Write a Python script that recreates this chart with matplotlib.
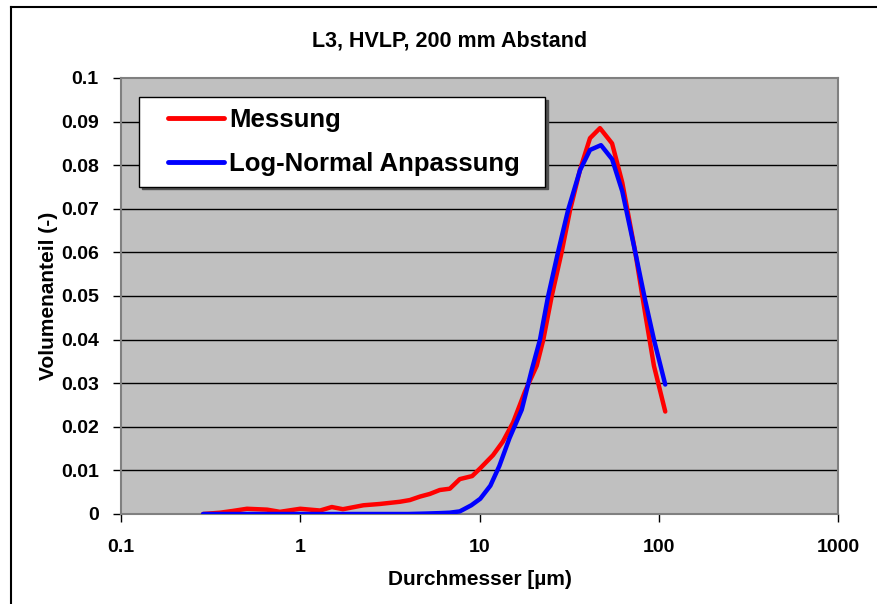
import matplotlib
matplotlib.use("Agg")
import matplotlib.pyplot as plt
from matplotlib.lines import Line2D
from matplotlib.legend_handler import HandlerLine2D
from matplotlib.ticker import FixedLocator, FuncFormatter, NullLocator

plt.rcParams['font.family'] = ['Liberation Sans', 'DejaVu Sans']

title = "L3, HVLP, 200 mm Abstand"
xlabel = "Durchmesser [µm)"
ylabel = "Volumenanteil (-)"
series_names = ["Messung", "Log-Normal Anpassung"]

meas_x = [0.287, 0.357, 0.42, 0.504, 0.653, 0.77, 1.0, 1.29, 1.5, 1.73, 2.25, 2.78,
          3.59, 4.09, 4.66, 5.28, 6.0, 6.83, 7.76, 9.1, 10.1, 11.9, 13.5, 15.4,
          17.9, 20.85, 22.7, 25.3, 28.7, 32.0, 36.4, 41.35, 47.0, 54.9, 62.6, 74.0,
          84.0, 94.0, 108.7]
meas_y = [0.0, 0.0003, 0.0007, 0.0012, 0.001, 0.0005, 0.0012, 0.0008, 0.0016, 0.0011,
          0.002, 0.0023, 0.0028, 0.0032, 0.004, 0.0046, 0.0055, 0.0058, 0.008, 0.0087,
          0.0105, 0.0135, 0.0166, 0.021, 0.028, 0.034, 0.040, 0.050, 0.060, 0.0697,
          0.079, 0.0862, 0.0885, 0.085, 0.076, 0.06, 0.046, 0.034, 0.0235]

fit_x = [0.287, 0.5, 1.0, 2.0, 3.0, 4.0, 5.0, 6.0, 6.83, 7.76, 8.1, 9.0, 10.1, 11.5,
         12.9, 14.7, 17.2, 19.55, 21.75, 24.1, 27.4, 31.2, 36.4, 41.35, 47.6, 54.9,
         62.6, 74.0, 84.0, 94.0, 108.7]
fit_y = [0.0, 0.0, 0.0, 0.0, 0.0, 0.0, 0.0001, 0.0002, 0.0003, 0.0006, 0.001, 0.002,
         0.0035, 0.0065, 0.011, 0.0174, 0.0239, 0.033, 0.040, 0.0498, 0.060, 0.0697,
         0.0789, 0.0835, 0.0846, 0.0814, 0.074, 0.06, 0.049, 0.04, 0.0297]

xticks = [0.1, 1, 10, 100, 1000]
yticks = [0, 0.01, 0.02, 0.03, 0.04, 0.05, 0.06, 0.07, 0.08, 0.09, 0.1]


class ShiftedLineHandler(HandlerLine2D):
    def create_artists(self, legend, orig_handle, xdescent, ydescent, width,
                       height, fontsize, trans):
        shift = 0.7 * fontsize
        return super().create_artists(legend, orig_handle, xdescent - shift,
                                      ydescent, width - shift, height, fontsize,
                                      trans)


fig = plt.figure(figsize=(8.77, 6.04), dpi=100)
ax = fig.add_axes([121/877, 1-514/604, (838-121)/877, (514-78)/604])
ax.set_facecolor('#c0c0c0')

ax.set_xscale('log')
ax.set_xlim(0.1, 1000)
ax.set_ylim(0, 0.1)
ax.xaxis.set_major_locator(FixedLocator(xticks))
ax.xaxis.set_minor_locator(NullLocator())
ax.xaxis.set_major_formatter(FuncFormatter(lambda v, p: f"{v:g}"))
ax.yaxis.set_major_locator(FixedLocator(yticks))
ax.yaxis.set_major_formatter(FuncFormatter(lambda v, p: f"{v:g}"))

for y in yticks[1:-1]:
    ax.axhline(y, color='black', lw=1.0, zorder=1)

ax.plot(meas_x, meas_y, color='#ff0000', lw=3.2, label=series_names[0], zorder=3,
        solid_capstyle='round', solid_joinstyle='round')
ax.plot(fit_x, fit_y, color='#0000ff', lw=3.2, label=series_names[1], zorder=4,
        solid_capstyle='round', solid_joinstyle='round')

for s in ax.spines.values():
    s.set_color('#808080')
    s.set_linewidth(1.5)

ax.tick_params(axis='both', direction='out', length=6, width=1, color='black',
               labelsize=14)
ax.tick_params(axis='y', pad=10)
ax.tick_params(axis='x', pad=12)
for lab in ax.get_xticklabels() + ax.get_yticklabels():
    lab.set_fontweight('bold')

ax.set_title(title, fontsize=15.5, fontweight='bold', pad=23, x=(450-121)/717)
ax.set_xlabel(xlabel, fontsize=15, fontweight='bold', labelpad=10)
ax.set_ylabel(ylabel, fontsize=15, fontweight='bold', labelpad=2)

leg = ax.legend(loc='upper left', bbox_to_anchor=(0.0251, 0.7564, 0.566, 0.2),
                mode='expand', borderaxespad=0,
                fancybox=False, edgecolor='black', framealpha=1, facecolor='white',
                prop={'size': 18.5, 'weight': 'bold'}, handlelength=2.89,
                labelspacing=0.78, borderpad=0.42, handletextpad=0.2,
                handler_map={Line2D: ShiftedLineHandler()},
                shadow={'color': '#505050', 'alpha': 1.0})
leg.get_frame().set_linewidth(1.0)
for h in leg.get_lines():
    h.set_linewidth(3.5)

fig.add_artist(Line2D([11/877, 11/877], [0, 1-7/604], color='black', lw=1.5,
                      transform=fig.transFigure))
fig.add_artist(Line2D([11/877, 1], [1-7/604, 1-7/604], color='black', lw=1.5,
                      transform=fig.transFigure))

fig.savefig('out.png', dpi=100)
